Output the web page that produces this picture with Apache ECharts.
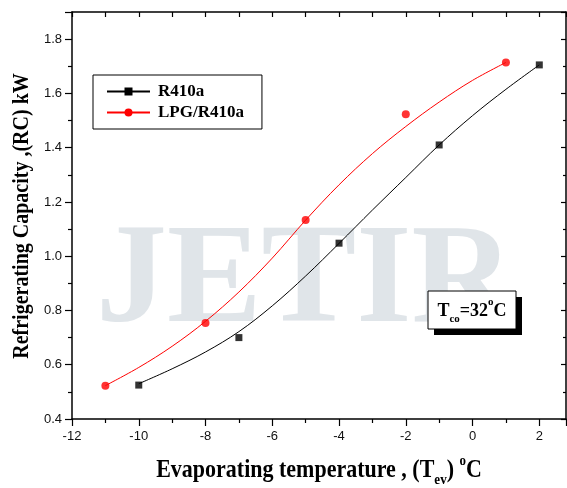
<!DOCTYPE html>
<html><head><meta charset="utf-8">
<script src="https://cdn.jsdelivr.net/npm/echarts@6/dist/echarts.min.js"></script>
<style>html,body{margin:0;padding:0;background:#fff}#c{width:567px;height:488px}</style>
</head><body><div id="c"></div>
<script>
// tick labels
const xTickLabels = [-12, -10, -8, -6, -4, -2, 0, 2];
const yTickLabels = [0.4, 0.6, 0.8, 1.0, 1.2, 1.4, 1.6, 1.8];
// measured points
const r410aX = [-10, -7, -4, -1, 2];
const r410aY = [0.525, 0.70, 1.048, 1.41, 1.705];
const lpgX = [-11, -8, -5, -2, 1];
const lpgY = [0.523, 0.754, 1.133, 1.523, 1.714];
// fitted curves
const r410aFitX = [-10, -9, -8, -7, -6, -5, -4, -3, -2, -1, 0, 1, 2];
const r410aFitY = [0.53, 0.585, 0.647, 0.722, 0.817, 0.927, 1.047, 1.17, 1.29, 1.41, 1.518, 1.615, 1.705];
const lpgFitX = [-11, -10, -9, -8, -7, -6, -5, -4, -3, -2, -1, 0, 1];
const lpgFitY = [0.523, 0.590, 0.668, 0.760, 0.868, 0.993, 1.133, 1.263, 1.378, 1.478, 1.568, 1.648, 1.714];

const zip = (a, b) => a.map((v, i) => [v, b[i]]);
const SERIF = '"Liberation Serif", "Times New Roman", serif';
const SANS = '"Liberation Sans", Arial, sans-serif';

const chart = echarts.init(document.getElementById('c'), null, {renderer: 'canvas'});

const axisLineStyle = {color: '#000', width: 1.5};
const baseX = {type: 'value', min: -12, max: 2.8, interval: 2, splitLine: {show: false}, minorSplitLine: {show: false}};
const baseY = {type: 'value', min: 0.4, max: 1.9, interval: 0.2, splitLine: {show: false}, minorSplitLine: {show: false}};

chart.setOption({
  animation: false,
  backgroundColor: '#fff',
  grid: {left: 72, right: 1, top: 12, bottom: 69, outerBoundsMode: 'none', containLabel: false},
  xAxis: [
    Object.assign({}, baseX, {
      position: 'bottom',
      axisLine: {show: true, onZero: false, lineStyle: axisLineStyle},
      axisTick: {show: true, inside: false, length: 7, lineStyle: {color: '#000', width: 1.2}},
      minorTick: {show: true, splitNumber: 2, length: 4, lineStyle: {color: '#000', width: 1.2}},
      axisLabel: {
        margin: 11, fontFamily: SANS, fontSize: 13, color: '#111',
        formatter: v => xTickLabels.some(t => Math.abs(t - v) < 1e-6) ? String(Math.round(v)) : ''
      }
    }),
    Object.assign({}, baseX, {
      position: 'top',
      axisLine: {show: true, onZero: false, lineStyle: axisLineStyle},
      axisTick: {show: true, inside: true, length: 5, lineStyle: {color: '#000', width: 1.2}},
      minorTick: {show: true, splitNumber: 2, length: 5, lineStyle: {color: '#000', width: 1.2}},
      axisLabel: {show: false}
    })
  ],
  yAxis: [
    Object.assign({}, baseY, {
      position: 'left',
      axisLine: {show: true, onZero: false, lineStyle: axisLineStyle},
      axisTick: {show: true, inside: false, length: 7, lineStyle: {color: '#000', width: 1.2}},
      minorTick: {show: true, splitNumber: 2, length: 4, lineStyle: {color: '#000', width: 1.2}},
      axisLabel: {
        margin: 10, fontFamily: SANS, fontSize: 13, color: '#111',
        formatter: v => yTickLabels.some(t => Math.abs(t - v) < 1e-6) ? v.toFixed(1) : ''
      }
    }),
    Object.assign({}, baseY, {
      position: 'right',
      axisLine: {show: true, onZero: false, lineStyle: axisLineStyle},
      axisTick: {show: true, inside: true, length: 5, lineStyle: {color: '#000', width: 1.2}},
      minorTick: {show: true, splitNumber: 2, length: 3, lineStyle: {color: '#000', width: 1.2}},
      axisLabel: {show: false}
    })
  ],
  legend: {
    orient: 'vertical', left: 93, top: 75,
    padding: [8, 18, 8, 13], itemGap: 4, itemWidth: 43, itemHeight: 10,
    borderColor: '#000', borderWidth: 1, borderRadius: 0, backgroundColor: '#fff',
    textStyle: {fontFamily: SERIF, fontWeight: 'bold', fontSize: 17, color: '#000', padding: [0, 0, 0, 3]},
    data: [{name: 'R410a'}, {name: 'LPG/R410a'}],
    selectedMode: false
  },
  graphic: [
    {type: 'text', z: -10, x: 305, y: 284, silent: true,
     style: {text: 'JETIR', font: 'bold 142px ' + SERIF, fill: '#e0e5e9', textAlign: 'center', textVerticalAlign: 'middle'}},
    {type: 'text', x: 22, y: 216, rotation: Math.PI / 2, scaleY: 1.12,
     style: {text: 'Refrigerating Capacity ,(RC) kW', font: 'bold 20px ' + SERIF, fill: '#000', textAlign: 'center', textVerticalAlign: 'middle'}},
    {type: 'text', x: 319, y: 471, scaleY: 1.1,
     style: {
       text: '{b|Evaporating temperature , (T}{s|ev}{b|) }{p|o}{b|C}',
       textAlign: 'center', textVerticalAlign: 'middle',
       rich: {
         b: {fontFamily: SERIF, fontWeight: 'bold', fontSize: 22, lineHeight: 30, fill: '#000'},
         s: {fontFamily: SERIF, fontWeight: 'bold', fontSize: 13, lineHeight: 13, verticalAlign: 'bottom', fill: '#000'},
         p: {fontFamily: SERIF, fontWeight: 'bold', fontSize: 13, lineHeight: 13, verticalAlign: 'top', fill: '#000'}
       }
     }},
    {type: 'rect', shape: {x: 434, y: 297, width: 88, height: 38}, style: {fill: '#000'}},
    {type: 'rect', shape: {x: 428, y: 291, width: 88, height: 38}, style: {fill: '#fff', stroke: '#000', lineWidth: 1}},
    {type: 'text', x: 472, y: 311,
     style: {
       text: '{b|T}{s|co}{b|=32}{p|o}{b|C}',
       textAlign: 'center', textVerticalAlign: 'middle',
       rich: {
         b: {fontFamily: SERIF, fontWeight: 'bold', fontSize: 18, lineHeight: 28, fill: '#000'},
         s: {fontFamily: SERIF, fontWeight: 'bold', fontSize: 11, lineHeight: 11, verticalAlign: 'bottom', fill: '#000'},
         p: {fontFamily: SERIF, fontWeight: 'bold', fontSize: 11, lineHeight: 11, verticalAlign: 'top', fill: '#000'}
       }
     }}
  ],
  series: [
    {type: 'line', name: 'R410a', data: zip(r410aFitX, r410aFitY), smooth: 0.35, showSymbol: false,
     symbol: 'rect', symbolSize: 8, lineStyle: {color: '#000', width: 1}, itemStyle: {color: '#000'}, z: 3},
    {type: 'line', name: 'LPG/R410a', data: zip(lpgFitX, lpgFitY), smooth: 0.35, showSymbol: false,
     symbol: 'circle', symbolSize: 10, lineStyle: {color: '#ff0000', width: 1}, itemStyle: {color: '#ff0000'}, z: 3},
    {type: 'scatter', name: 'R410a', data: zip(r410aX, r410aY), symbol: 'rect', symbolSize: 7,
     itemStyle: {color: '#000'}, z: 4},
    {type: 'scatter', name: 'LPG/R410a', data: zip(lpgX, lpgY), symbol: 'circle', symbolSize: 8,
     itemStyle: {color: '#ff0000'}, z: 4}
  ]
});
</script>
</body></html>
